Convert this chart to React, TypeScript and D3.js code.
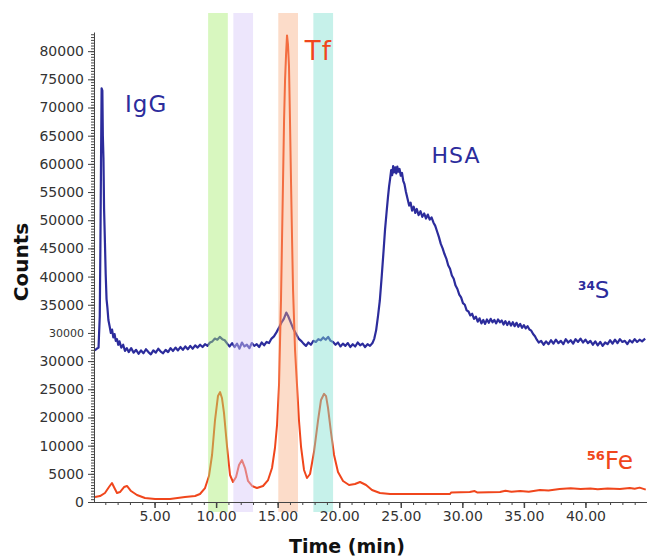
import React, { useEffect, useRef } from 'react'
import * as d3 from 'd3'

// time axis (min)
const timeTicks = [5, 10, 15, 20, 25, 30, 35, 40]
const timeTickLabels = ['5.00', '10.00', '15.00', '20.00', '25.00', '30.00', '35.00', '40.00']

// counts axis: evenly spaced positions, labels as printed on the original figure
const countTicks = [0, 5000, 10000, 15000, 20000, 25000, 30000, 35000, 40000, 45000, 50000, 55000, 60000, 65000, 70000, 75000, 80000]
const countTickLabels = ['0', '5000', '10000', '20000', '25000', '30000', '30000', '35000', '40000', '45000', '50000', '55000', '60000', '65000', '70000', '75000', '80000']

// highlighted fractions [start, end] in min
const fractions: [number, number][] = [[9.35, 10.95], [11.4, 13.0], [15.05, 16.65], [17.9, 19.5]]
const fractionColors = ['#a8ee70', '#d8c8f8', '#f8a878', '#80e0d0']

// 34S trace [time min, counts x1000]
const sulfur: [number, number][] = [
  [0.15, 26.9], [0.3, 27.2], [0.45, 27.4], [0.55, 33.0], [0.6, 45.0], [0.65, 60.0], [0.7, 73.4], [0.76, 73.0], [0.8, 65.0],
  [0.85, 61.0], [0.9, 52.0], [0.97, 46.0], [1.03, 40.5], [1.1, 36.0], [1.17, 34.5], [1.25, 32.3], [1.35, 31.2], [1.45, 30.0],
  [1.55, 30.6], [1.65, 29.2], [1.75, 29.8], [1.85, 28.6], [1.95, 28.9], [2.05, 27.9], [2.15, 28.5], [2.3, 27.4], [2.45, 27.9],
  [2.6, 26.8], [2.75, 27.3],
  [2.9, 26.6], [3.1, 27.3], [3.3, 26.5], [3.5, 27.0], [3.7, 26.3], [3.9, 26.9], [4.1, 26.4], [4.3, 27.1], [4.5, 26.6], [4.7, 26.2],
  [4.9, 26.9], [5.1, 26.5], [5.3, 27.2], [5.5, 26.7], [5.7, 26.4], [5.9, 27.0], [6.1, 26.6], [6.3, 27.3], [6.5, 26.8], [6.7, 27.4],
  [6.9, 26.9], [7.1, 27.5], [7.3, 27.0], [7.5, 27.6], [7.7, 27.1], [7.9, 27.7], [8.1, 27.2], [8.3, 27.8], [8.5, 27.4], [8.7, 27.9],
  [8.9, 27.5], [9.1, 28.0], [9.3, 27.7],
  [9.5, 28.3], [9.7, 28.5], [9.9, 29.0], [10.1, 28.8], [10.3, 29.3], [10.5, 28.9], [10.7, 28.7], [10.9, 28.1],
  [11.1, 27.6], [11.3, 28.2], [11.5, 27.5], [11.7, 28.1], [11.9, 27.2], [12.1, 28.3], [12.3, 27.6], [12.5, 27.9], [12.7, 27.3],
  [12.9, 28.2], [13.1, 27.7], [13.3, 28.0], [13.5, 27.5], [13.7, 28.3], [13.9, 27.8], [14.1, 28.4],
  [14.3, 28.2], [14.5, 29.0], [14.7, 29.4], [14.9, 30.1], [15.1, 30.9], [15.3, 31.8], [15.5, 32.5], [15.7, 33.6], [15.85, 33.0],
  [16.0, 32.2], [16.15, 31.4], [16.3, 30.6], [16.5, 29.8], [16.7, 29.0], [16.9, 28.6], [17.1, 28.1],
  [17.3, 27.7], [17.5, 28.3], [17.7, 27.9], [17.9, 28.6], [18.1, 28.4], [18.3, 28.9], [18.5, 28.7], [18.7, 29.2], [18.9, 28.8],
  [19.1, 29.3], [19.3, 28.6], [19.5, 28.4], [19.7, 27.9],
  [19.9, 28.3], [20.1, 27.6], [20.3, 28.1], [20.5, 27.7], [20.7, 28.2], [20.9, 27.5], [21.1, 28.0], [21.3, 27.6], [21.5, 28.3],
  [21.7, 27.8], [21.9, 28.1], [22.1, 27.5], [22.3, 28.0], [22.5, 27.7], [22.7, 28.2],
  [22.85, 29.0], [23.0, 30.5], [23.15, 33.0], [23.3, 35.8], [23.45, 40.0], [23.6, 44.5], [23.72, 48.3], [23.85, 51.5], [23.96, 54.1],
  [24.05, 56.0], [24.13, 57.3], [24.22, 58.9], [24.3, 58.0], [24.38, 59.6], [24.46, 58.5], [24.55, 59.4], [24.63, 58.3], [24.72, 59.5],
  [24.8, 58.6], [24.9, 59.1], [25.0, 57.9], [25.1, 58.4], [25.2, 57.0], [25.3, 56.4], [25.42, 55.0], [25.55, 53.8], [25.68, 52.6],
  [25.8, 53.1], [25.92, 51.7], [26.05, 52.4], [26.18, 51.3], [26.3, 52.0], [26.45, 50.9], [26.6, 51.6], [26.75, 50.6], [26.9, 51.2],
  [27.05, 50.3], [27.2, 51.0], [27.35, 50.1], [27.5, 50.5], [27.65, 49.6], [27.8, 49.0], [27.95, 48.0], [28.1, 47.0], [28.25, 45.8],
  [28.4, 45.0], [28.55, 44.0], [28.7, 43.2], [28.85, 42.0], [29.0, 41.4], [29.15, 40.2], [29.3, 39.6], [29.45, 38.4], [29.6, 37.8],
  [29.75, 36.8], [29.9, 36.3], [30.05, 35.3], [30.2, 35.0], [30.35, 34.0], [30.5, 33.8], [30.65, 33.1], [30.8, 33.4], [30.95, 32.5],
  [31.1, 32.9], [31.25, 32.0], [31.4, 32.6], [31.55, 31.7], [31.7, 32.3], [31.85, 31.6], [32.0, 32.4], [32.15, 31.8], [32.3, 32.5],
  [32.45, 31.9], [32.6, 32.3], [32.75, 31.7], [32.9, 32.4], [33.05, 31.9], [33.2, 32.2], [33.35, 31.5], [33.5, 32.1], [33.65, 31.4],
  [33.8, 32.0], [33.95, 31.3], [34.1, 31.9], [34.25, 31.2], [34.4, 31.8], [34.55, 31.1], [34.7, 31.6], [34.85, 30.9], [35.0, 31.4],
  [35.15, 30.8], [35.3, 31.2], [35.45, 30.6], [35.6, 30.4], [35.75, 29.8], [35.9, 29.4], [36.05, 28.8], [36.2, 28.3],
  [36.4, 28.6], [36.6, 27.9], [36.8, 28.5], [37.0, 28.0], [37.2, 28.7], [37.4, 28.1], [37.6, 28.8], [37.8, 28.2], [38.0, 28.6],
  [38.2, 28.0], [38.4, 28.9], [38.6, 28.3], [38.8, 28.7], [39.0, 28.1], [39.2, 28.9], [39.4, 28.4], [39.6, 29.0], [39.8, 28.3],
  [40.0, 28.8], [40.2, 28.2], [40.4, 28.6], [40.6, 27.9], [40.8, 28.5], [41.0, 27.8], [41.2, 28.4], [41.4, 27.7], [41.6, 28.3],
  [41.8, 28.0], [42.0, 28.7], [42.2, 28.1], [42.4, 28.8], [42.6, 28.2], [42.8, 28.9], [43.0, 28.4], [43.2, 28.6], [43.4, 28.0],
  [43.6, 28.7], [43.8, 28.3], [44.0, 28.9], [44.2, 28.4], [44.4, 28.8], [44.6, 28.5], [44.85, 29.0]
]

// 56Fe trace [time min, counts x1000]
const iron: [number, number][] = [
  [0.16, 0.9], [0.57, 1.06], [0.97, 1.6], [1.3, 2.66], [1.54, 3.37], [1.7, 2.66], [1.95, 1.6], [2.19, 1.77], [2.52, 2.66],
  [2.76, 2.84], [3.09, 1.95], [3.57, 1.24], [4.22, 0.71], [5.04, 0.53], [6.26, 0.53], [7.47, 0.89], [8.29, 1.06], [8.69, 1.42],
  [9.1, 2.48], [9.42, 4.61], [9.67, 8.34], [9.91, 14.5], [10.15, 18.8], [10.32, 19.5], [10.48, 18.4], [10.64, 15.8], [10.89, 9.76],
  [11.13, 4.79], [11.37, 3.55], [11.62, 4.43], [11.86, 6.56], [12.1, 7.45], [12.35, 6.03], [12.59, 3.73], [12.92, 2.84], [13.32, 2.48],
  [13.81, 2.84], [14.22, 3.9], [14.54, 6.03], [14.78, 9.58], [14.95, 13.7], [15.11, 20.8], [15.27, 35.8], [15.43, 56.2], [15.52, 67.8],
  [15.6, 74.9], [15.68, 79.3], [15.76, 82.8], [15.84, 81.1], [15.92, 77.3], [16.0, 67.8], [16.09, 56.2], [16.17, 46.5], [16.25, 37.6],
  [16.41, 27.0], [16.57, 20.8], [16.73, 14.5], [16.9, 9.76], [17.14, 5.68], [17.38, 4.26], [17.63, 4.97], [17.95, 8.87], [18.28, 14.5],
  [18.52, 18.1], [18.77, 19.2], [18.93, 18.8], [19.09, 16.7], [19.33, 12.4], [19.58, 8.34], [19.9, 5.32], [20.31, 3.73], [20.8, 3.02],
  [21.28, 3.19], [21.69, 3.55], [22.18, 3.02], [22.66, 2.13], [23.31, 1.6], [24.13, 1.42], [26.56, 1.42], [29.0, 1.42], [29.1, 1.7],
  [30.6, 1.77], [31.0, 1.95], [31.2, 1.7], [33.06, 1.77], [33.5, 2.0], [34.0, 1.8], [34.7, 1.95], [35.4, 1.8], [36.3, 2.13],
  [37.0, 2.05], [37.9, 2.31], [38.8, 2.45], [39.6, 2.3], [40.4, 2.4], [41.0, 2.25], [41.8, 2.4], [42.8, 2.31], [43.6, 2.5],
  [44.0, 2.35], [44.4, 2.55], [44.9, 2.2]
]

// peak annotations [time min, counts]
const peakNames = ['IgG', 'Tf', 'HSA']
const peakAnchors: [number, number][] = [[2.6, 69200], [17.2, 78400], [27.5, 60100]]

const App = () => {
  const svgRef = useRef<SVGSVGElement>(null)

  useEffect(() => {
    const width = 647
    const height = 557
    const blue = '#2c2c9c'
    const red = '#f0461c'
    const svg = d3.select(svgRef.current)
      .attr('width', width)
      .attr('height', height)
    svg.selectAll('*').remove()

    const x = d3.scaleLinear().domain([0, 45]).range([93, 647])
    const y = d3.scaleLinear().domain([0, 83400]).range([502, 32])

    // traces
    const line = d3.line<[number, number]>()
      .x(d => x(d[0]))
      .y(d => y(d[1] * 1000))

    svg.append('path')
      .datum(sulfur)
      .attr('d', line)
      .attr('fill', 'none')
      .attr('stroke', blue)
      .attr('stroke-width', 2.2)
      .attr('stroke-linejoin', 'round')

    svg.append('path')
      .datum(iron)
      .attr('d', line)
      .attr('fill', 'none')
      .attr('stroke', red)
      .attr('stroke-width', 2)
      .attr('stroke-linejoin', 'round')

    // fraction bands, drawn over the traces like a translucent overlay
    svg.selectAll('rect.band')
      .data(fractions)
      .join('rect')
      .attr('class', 'band')
      .attr('x', d => x(d[0]))
      .attr('width', d => x(d[1]) - x(d[0]))
      .attr('y', 13)
      .attr('height', 499)
      .attr('fill', (d, i) => fractionColors[i])
      .attr('fill-opacity', (d, i) => (i === 2 ? 0.4 : 0.45))

    // axes
    const axisColor = '#444'
    const yMinor = svg.append('g')
      .attr('transform', `translate(${x(0) + 1},0)`)
      .call(d3.axisLeft(y).tickValues(d3.range(0, 83001, 500)).tickSize(3).tickSizeOuter(0).tickFormat(() => ''))
    yMinor.select('.domain').remove()
    yMinor.selectAll('line').attr('stroke', axisColor)

    const yAxis = svg.append('g')
      .attr('transform', `translate(${x(0) + 1},0)`)
      .call(d3.axisLeft(y).tickValues(countTicks).tickSize(6).tickSizeOuter(0)
        .tickFormat((d, i) => countTickLabels[i]))
    yAxis.select('.domain').attr('stroke', axisColor)
    yAxis.selectAll('line').attr('stroke', axisColor)
    yAxis.selectAll('text')
      .attr('font-family', 'DejaVu Sans, sans-serif')
      .attr('font-size', (d, i) => (i === 6 ? 11 : 14))
      .attr('fill', '#333')
      .attr('x', -10)

    const xMinor = svg.append('g')
      .attr('transform', `translate(0,${y(0)})`)
      .call(d3.axisBottom(x).tickValues(d3.range(1, 45, 1)).tickSize(3).tickSizeOuter(0).tickFormat(() => ''))
    xMinor.select('.domain').remove()
    xMinor.selectAll('line').attr('stroke', axisColor)

    const xAxis = svg.append('g')
      .attr('transform', `translate(0,${y(0)})`)
      .call(d3.axisBottom(x).tickValues(timeTicks).tickSize(6).tickSizeOuter(0)
        .tickFormat((d, i) => timeTickLabels[i]))
    xAxis.select('.domain').attr('stroke', axisColor)
    xAxis.selectAll('line').attr('stroke', axisColor).attr('stroke-width', 1.5)
    xAxis.selectAll('text')
      .attr('font-family', 'DejaVu Sans, sans-serif')
      .attr('font-size', 14)
      .attr('fill', '#333')
      .attr('y', 9)

    // axis titles
    svg.append('text')
      .attr('transform', `translate(28,262) rotate(-90)`)
      .attr('text-anchor', 'middle')
      .attr('font-family', 'DejaVu Sans, sans-serif')
      .attr('font-weight', 'bold')
      .attr('font-size', 20)
      .attr('fill', '#111')
      .text('Counts')

    svg.append('text')
      .attr('x', 347)
      .attr('y', 553)
      .attr('text-anchor', 'middle')
      .attr('font-family', 'DejaVu Sans, sans-serif')
      .attr('font-weight', 'bold')
      .attr('font-size', 19)
      .attr('fill', '#111')
      .text('Time (min)')

    // peak labels
    const peakColors = [blue, red, blue]
    const peakSizes = [23, 26, 22]
    svg.selectAll('text.peak')
      .data(peakAnchors)
      .join('text')
      .attr('class', 'peak')
      .attr('x', d => x(d[0]))
      .attr('y', d => y(d[1]))
      .attr('font-family', 'DejaVu Sans, sans-serif')
      .attr('font-size', (d, i) => peakSizes[i])
      .attr('letter-spacing', 1)
      .attr('fill', (d, i) => peakColors[i])
      .text((d, i) => peakNames[i])

    // isotope labels
    const sLabel = svg.append('text')
      .attr('x', x(39.4))
      .attr('y', y(36200))
      .attr('font-family', 'DejaVu Sans, sans-serif')
      .attr('fill', blue)
    sLabel.append('tspan').attr('font-size', 12).attr('font-weight', 'bold').attr('dy', -8).text('34')
    sLabel.append('tspan').attr('font-size', 23).attr('dy', 8).text('S')

    const feLabel = svg.append('text')
      .attr('x', x(40.1))
      .attr('y', y(5800))
      .attr('font-family', 'DejaVu Sans, sans-serif')
      .attr('fill', red)
    feLabel.append('tspan').attr('font-size', 13).attr('font-weight', 'bold').attr('dy', -9).text('56')
    feLabel.append('tspan').attr('font-size', 25).attr('dy', 9).text('Fe')
  }, [])

  return (
    <svg ref={svgRef} style={{ position: 'absolute', left: 0, top: 0, background: '#fff' }}></svg>
  )
}

export default App
